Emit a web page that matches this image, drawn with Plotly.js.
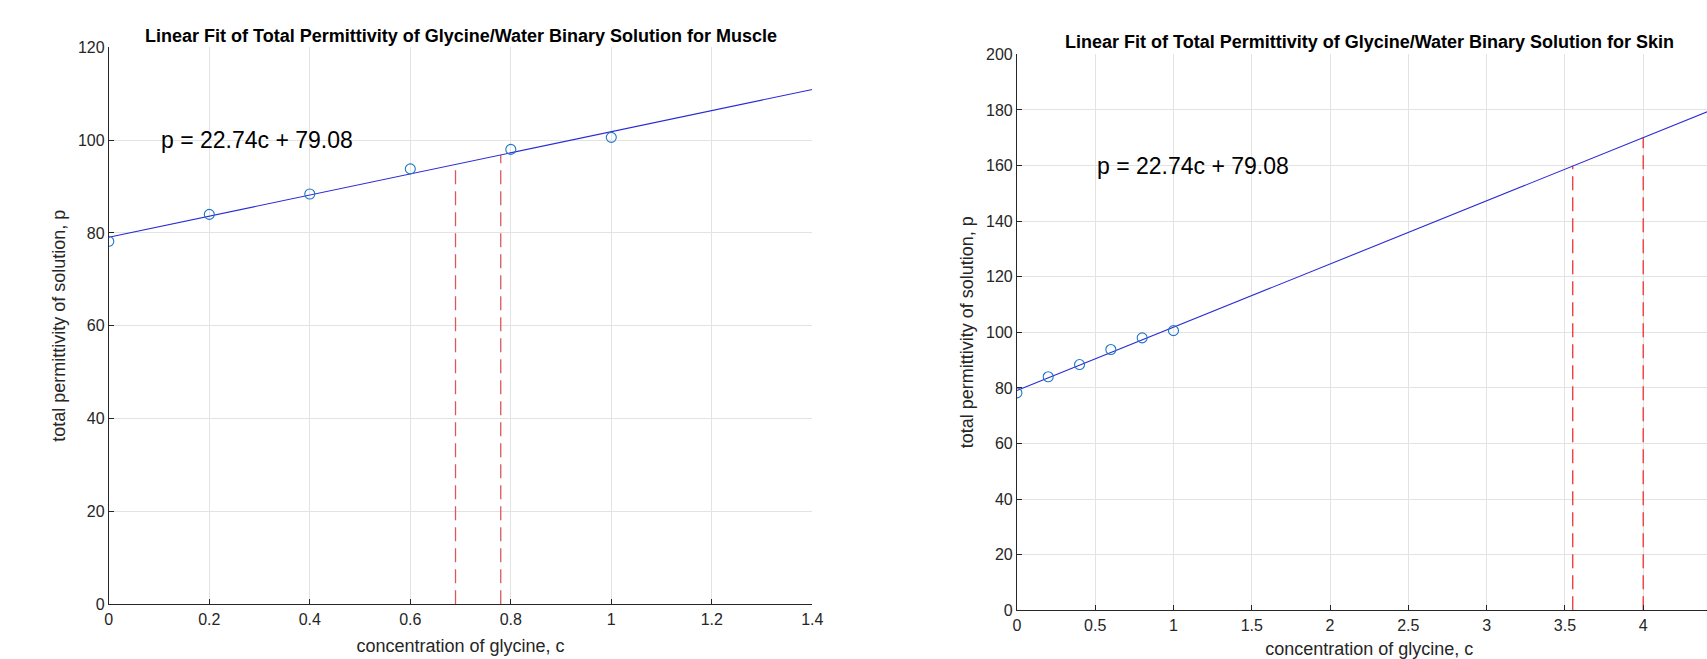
<!DOCTYPE html>
<html>
<head>
<meta charset="utf-8">
<script src="https://cdn.plot.ly/plotly-3.0.1.min.js"></script>
<style>
  html, body { margin: 0; padding: 0; overflow: hidden; background: #fff; }
  #chart { width: 1740px; height: 659px; }
</style>
</head>
<body>
<div id="chart"></div>
<script>
// ---- data ----
const concentration = [0, 0.2, 0.4, 0.6, 0.8, 1.0];
const permittivity = [78.2, 84.0, 88.4, 93.8, 98.0, 100.6];

const equationText = "p = 22.74c + 79.08";

// fitted line end points (p = 22.74c + 79.08)
const muscleFitC = [0, 1.4];
const muscleFitP = [79.08, 110.92];
const skinFitC = [0, 4.5];
const skinFitP = [79.08, 181.41];

// dashed marker lines (concentration, height on the fit line)
const muscleMarkC = [0.69, 0.78];
const muscleMarkP = [94.77, 96.82];
const skinMarkC = [3.55, 4.0];
const skinMarkP = [159.81, 170.04];

// tick values
const muscleXTicks = [0, 0.2, 0.4, 0.6, 0.8, 1, 1.2, 1.4];
const skinXTicks = [0, 0.5, 1, 1.5, 2, 2.5, 3, 3.5, 4];
const muscleYTicks = [0, 20, 40, 60, 80, 100, 120];
const skinYTicks = [0, 20, 40, 60, 80, 100, 120, 140, 160, 180, 200];

const titles = [
  "Linear Fit of Total Permittivity of Glycine/Water Binary Solution for Muscle",
  "Linear Fit of Total Permittivity of Glycine/Water Binary Solution for Skin"
];
const xLabel = "concentration of glycine, c";
const yLabel = "total permittivity of solution, p";

// ---- helpers ----
function vLines(cs, ps) {
  const x = [], y = [];
  cs.forEach((c, i) => { x.push(c, c, null); y.push(0, ps[i], null); });
  return { x, y };
}

const W = 1740, H = 659;
const FONT = "Liberation Sans, Arial, Helvetica, sans-serif";
const AXC = "#262626";
const GRID = "#e3e3e3";

const mL = vLines(muscleMarkC, muscleMarkP);
const sL = vLines(skinMarkC, skinMarkP);

const traces = [
  { x: mL.x, y: mL.y, xaxis: "x", yaxis: "y", mode: "lines",
    line: { color: "#d9585c", width: 1.3, dash: "14px,7px" }, hoverinfo: "skip" },
  { x: muscleFitC, y: muscleFitP, xaxis: "x", yaxis: "y", mode: "lines",
    line: { color: "#2b2bd6", width: 1.1 } },
  { x: concentration, y: permittivity, xaxis: "x", yaxis: "y", mode: "markers",
    marker: { symbol: "circle-open", size: 10, color: "#1f77c4", line: { width: 1.1 } } },

  { x: sL.x, y: sL.y, xaxis: "x2", yaxis: "y2", mode: "lines",
    line: { color: "#f03030", width: 1.3, dash: "14px,7px" }, hoverinfo: "skip" },
  { x: skinFitC, y: skinFitP, xaxis: "x2", yaxis: "y2", mode: "lines",
    line: { color: "#2b2bd6", width: 1.1 } },
  { x: concentration, y: permittivity, xaxis: "x2", yaxis: "y2", mode: "markers",
    marker: { symbol: "circle-open", size: 10, color: "#1f77c4", line: { width: 1.1 } } }
];

function xAxis(domPx, range, ticks, anchor) {
  return {
    domain: [domPx[0] / W, domPx[1] / W], range: range,
    tickmode: "array", tickvals: ticks, ticktext: ticks.map(String),
    anchor: anchor, showline: true, linecolor: AXC, linewidth: 1,
    ticks: "inside", ticklen: 5, tickcolor: AXC, mirror: false,
    showgrid: true, gridcolor: GRID, gridwidth: 1, zeroline: false,
    tickfont: { family: FONT, size: 16, color: AXC },
    title: { text: xLabel, font: { family: FONT, size: 18, color: AXC }, standoff: 12 },
    fixedrange: true
  };
}
function yAxis(domPx, range, ticks, anchor) {
  return {
    domain: [(H - domPx[1]) / H, (H - domPx[0]) / H], range: range,
    tickmode: "array", tickvals: ticks, ticktext: ticks.map(String),
    anchor: anchor, showline: true, linecolor: AXC, linewidth: 1,
    ticks: "inside", ticklen: 5, tickcolor: AXC, mirror: false,
    showgrid: true, gridcolor: GRID, gridwidth: 1, zeroline: false,
    tickfont: { family: FONT, size: 16, color: AXC },
    title: { text: yLabel, font: { family: FONT, size: 18, color: AXC }, standoff: 7 },
    fixedrange: true
  };
}

const layout = {
  width: W, height: H,
  margin: { l: 0, r: 0, t: 0, b: 0 },
  paper_bgcolor: "#fff", plot_bgcolor: "#fff",
  showlegend: false,
  xaxis: xAxis([108.8, 812.3], [0, 1.4], muscleXTicks, "y"),
  yaxis: yAxis([47.3, 604.3], [0, 120], muscleYTicks, "x"),
  xaxis2: xAxis([1016.9, 1721.5], [0, 4.5], skinXTicks, "y2"),
  yaxis2: yAxis([54.3, 610.3], [0, 200], skinYTicks, "x2"),
  annotations: [
    { text: "<b>" + titles[0] + "</b>", xref: "paper", yref: "paper",
      x: ((108.8 + 812.3) / 2) / W, y: (H - 36) / H, xanchor: "center", yanchor: "middle",
      showarrow: false, font: { family: FONT, size: 18, color: "#000" } },
    { text: "<b>" + titles[1] + "</b>", xref: "paper", yref: "paper",
      x: ((1016.9 + 1721.5) / 2) / W, y: (H - 42) / H, xanchor: "center", yanchor: "middle",
      showarrow: false, font: { family: FONT, size: 18, color: "#000" } },
    { text: equationText, xref: "x", yref: "y", x: 0.1, y: 100,
      xanchor: "left", yanchor: "middle", showarrow: false,
      font: { family: FONT, size: 23, color: "#000" } },
    { text: equationText, xref: "x2", yref: "y2", x: 0.5, y: 160,
      xanchor: "left", yanchor: "middle", showarrow: false,
      font: { family: FONT, size: 23, color: "#000" } }
  ]
};

Plotly.newPlot("chart", traces, layout, { displayModeBar: false, staticPlot: true });
</script>
</body>
</html>
